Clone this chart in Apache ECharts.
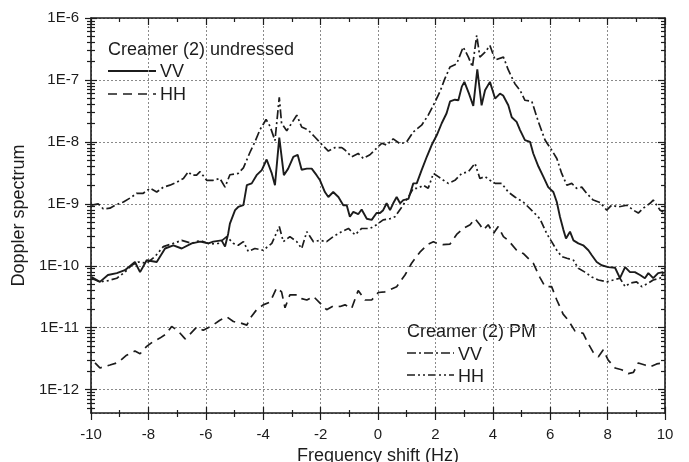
<!DOCTYPE html>
<html>
<head>
<meta charset="utf-8">
<script src="https://cdn.jsdelivr.net/npm/echarts@6/dist/echarts.min.js"></script>
<style>
html,body{margin:0;padding:0;background:#fff;}
#chart{width:689px;height:462px;}
</style>
</head>
<body>
<div id="chart"></div>
<script>
// ---- data: [frequency shift (Hz), Doppler spectrum] ----
const undressedVV = [
[-9.98,6.6e-11],[-9.69,5.5e-11],[-9.41,7.1e-11],[-9.10,7.6e-11],[-8.82,8.5e-11],[-8.47,1.15e-10],[-8.29,7.9e-11],
[-8.06,1.23e-10],[-7.71,1.15e-10],[-7.42,1.9e-10],[-7.13,2.14e-10],[-6.84,1.9e-10],[-6.49,2.3e-10],[-6.20,2.45e-10],
[-5.91,2.3e-10],[-5.74,2.45e-10],[-5.45,2.57e-10],[-5.33,2.04e-10],[-5.22,3.3e-10],[-5.16,4.8e-10],[-4.98,7.9e-10],
[-4.87,8.9e-10],[-4.69,9.5e-10],[-4.57,2.0e-9],[-4.40,2.14e-9],[-4.23,2.9e-9],[-4.05,3.5e-9],[-3.88,5.2e-9],
[-3.70,3.1e-9],[-3.59,2.0e-9],[-3.44,1.17e-8],[-3.28,2.9e-9],[-3.13,3.7e-9],[-2.95,5.75e-9],[-2.80,6.2e-9],
[-2.66,3.55e-9],[-2.48,3.7e-9],[-2.31,3.7e-9],[-2.14,2.9e-9],[-2.02,2.4e-9],[-1.85,1.55e-9],[-1.73,1.29e-9],
[-1.56,1.55e-9],[-1.38,1.29e-9],[-1.21,9.5e-10],[-1.09,9.5e-10],[-0.98,6.2e-10],[-0.86,7.4e-10],[-0.69,6.8e-10],
[-0.57,8.1e-10],[-0.39,5.75e-10],[-0.22,5.5e-10],[-0.05,7.1e-10],[0.07,7.1e-10],[0.18,7.9e-10],[0.30,1.02e-9],
[0.42,7.9e-10],[0.53,1.02e-9],[0.65,1.29e-9],[0.77,1.02e-9],[0.88,1.15e-9],[1.06,1.2e-9],[1.23,2.14e-9],
[1.35,2.14e-9],[1.52,3.5e-9],[1.70,5.75e-9],[1.87,8.9e-9],[2.05,1.29e-8],[2.22,2.0e-8],[2.39,2.9e-8],
[2.51,4.5e-8],[2.68,4.8e-8],[2.80,4.7e-8],[2.92,7.8e-8],[3.01,9.3e-8],[3.17,6.0e-8],[3.32,3.8e-8],[3.46,1.48e-7],
[3.61,3.9e-8],[3.73,6.8e-8],[3.90,9.3e-8],[4.08,5.0e-8],[4.25,6.0e-8],[4.36,5.6e-8],[4.54,3.9e-8],[4.66,2.5e-8],
[4.83,2.1e-8],[4.95,1.55e-8],[5.12,1.07e-8],[5.30,1.0e-8],[5.41,6.5e-9],[5.59,4.0e-9],[5.76,2.75e-9],[5.93,1.86e-9],
[6.11,1.55e-9],[6.23,1.07e-9],[6.34,6.2e-10],[6.46,3.8e-10],[6.55,2.75e-10],[6.69,3.55e-10],[6.81,2.57e-10],
[6.98,2.3e-10],[7.15,2.14e-10],[7.33,1.78e-10],[7.45,1.48e-10],[7.62,1.15e-10],[7.79,1.02e-10],[8.02,9.5e-11],
[8.26,9.3e-11],[8.43,6.3e-11],[8.61,9.5e-11],[8.78,7.9e-11],[8.95,7.9e-11],[9.13,7.1e-11],[9.30,6.3e-11],
[9.42,7.6e-11],[9.59,6.3e-11],[9.76,7.6e-11],[9.94,7.9e-11]
];
const undressedHH = [
[-9.86,2.7e-12],[-9.69,2.24e-12],[-9.34,2.5e-12],[-9.05,2.75e-12],[-8.76,3.6e-12],[-8.47,4.2e-12],[-8.29,3.8e-12],
[-8.06,5.0e-12],[-7.83,6.0e-12],[-7.60,6.8e-12],[-7.39,7.9e-12],[-7.19,1.05e-11],[-6.97,8.9e-12],[-6.72,6.6e-12],
[-6.55,7.9e-12],[-6.32,1.02e-11],[-6.09,9.1e-12],[-5.79,1.07e-11],[-5.51,1.32e-11],[-5.27,1.5e-11],[-5.04,1.26e-11],
[-4.81,1.2e-11],[-4.57,1.1e-11],[-4.46,1.41e-11],[-4.23,1.95e-11],[-4.00,2.34e-11],[-3.76,2.6e-11],[-3.53,4.4e-11],
[-3.36,3.8e-11],[-3.24,2.1e-11],[-3.07,3.4e-11],[-2.83,3.4e-11],[-2.66,2.95e-11],[-2.48,2.8e-11],[-2.25,3.2e-11],
[-2.02,2.5e-11],[-1.79,1.95e-11],[-1.56,2.24e-11],[-1.32,2.2e-11],[-1.15,2.34e-11],[-0.92,2.04e-11],[-0.69,4.0e-11],
[-0.45,2.8e-11],[-0.22,2.8e-11],[0.01,3.7e-11],[0.24,3.8e-11],[0.42,4.1e-11],[0.65,4.6e-11],[0.94,7.1e-11],
[1.17,1.1e-10],[1.46,1.66e-10],[1.75,2.24e-10],[1.93,2.45e-10],[2.06,2.3e-10],[2.26,2.2e-10],[2.51,2.24e-10],
[2.74,3.2e-10],[2.97,4.0e-10],[3.21,4.6e-10],[3.38,5.75e-10],[3.55,4.6e-10],[3.67,3.8e-10],[3.84,4.6e-10],
[4.02,3.3e-10],[4.19,4.3e-10],[4.37,2.95e-10],[4.54,2.57e-10],[4.83,1.78e-10],[5.06,1.58e-10],[5.41,1.1e-10],
[5.64,6.5e-11],[5.82,4.6e-11],[6.05,4.6e-11],[6.23,2.8e-11],[6.45,1.66e-11],[6.63,1.32e-11],[6.86,8.9e-12],
[7.15,8.1e-12],[7.32,5.6e-12],[7.50,4.0e-12],[7.68,3.4e-12],[7.85,4.4e-12],[8.02,3.0e-12],[8.26,2.24e-12],
[8.49,2.1e-12],[8.72,1.82e-12],[8.90,1.9e-12],[9.07,2.7e-12],[9.30,2.5e-12],[9.48,2.34e-12],[9.71,2.6e-12],
[9.94,2.7e-12]
];
const pmVV = [
[-9.98,9.5e-10],[-9.75,1.0e-9],[-9.57,8.3e-10],[-9.34,8.5e-10],[-9.16,9.5e-10],[-8.87,1.07e-9],[-8.58,1.29e-9],
[-8.41,1.48e-9],[-8.18,1.48e-9],[-7.94,1.78e-9],[-7.71,1.55e-9],[-7.48,1.86e-9],[-7.25,2.0e-9],[-7.01,2.24e-9],
[-6.78,2.57e-9],[-6.61,3.3e-9],[-6.49,2.9e-9],[-6.32,2.9e-9],[-6.20,3.3e-9],[-5.97,2.4e-9],[-5.74,2.4e-9],
[-5.51,2.57e-9],[-5.33,1.86e-9],[-5.16,2.95e-9],[-4.87,3.1e-9],[-4.69,3.8e-9],[-4.46,6.8e-9],[-4.29,1.0e-8],
[-4.11,1.58e-8],[-3.90,2.3e-8],[-3.76,1.78e-8],[-3.59,1.05e-8],[-3.44,5.25e-8],[-3.36,2.0e-8],[-3.18,1.51e-8],
[-3.01,2.0e-8],[-2.83,2.7e-8],[-2.66,1.74e-8],[-2.43,1.55e-8],[-2.20,1.2e-8],[-1.96,9.1e-9],[-1.73,7.1e-9],
[-1.50,8.1e-9],[-1.26,8.1e-9],[-1.15,7.4e-9],[-0.92,5.75e-9],[-0.69,6.5e-9],[-0.51,5.4e-9],[-0.28,6.2e-9],
[-0.05,7.9e-9],[0.13,9.5e-9],[0.30,8.9e-9],[0.53,1.12e-8],[0.77,9.3e-9],[1.00,1.0e-8],[1.23,1.45e-8],
[1.52,1.86e-8],[1.75,2.7e-8],[1.93,3.9e-8],[2.16,6.5e-8],[2.33,1.05e-7],[2.51,1.62e-7],[2.74,1.82e-7],
[2.97,3.4e-7],[3.15,2.34e-7],[3.29,1.62e-7],[3.44,5.25e-7],[3.55,2.34e-7],[3.73,2.8e-7],[3.90,3.6e-7],
[4.08,2.1e-7],[4.37,2.34e-7],[4.54,1.45e-7],[4.77,8.7e-8],[4.95,6.8e-8],[5.12,4.7e-8],[5.36,4.5e-8],[5.59,2.1e-8],
[5.82,1.07e-8],[6.05,7.4e-9],[6.23,5.4e-9],[6.40,3.1e-9],[6.58,2.0e-9],[6.75,2.14e-9],[6.92,1.78e-9],[7.10,1.86e-9],
[7.27,1.48e-9],[7.50,1.15e-9],[7.74,1.05e-9],[7.97,7.9e-10],[8.14,9.5e-10],[8.37,8.9e-10],[8.67,9.5e-10],
[8.90,7.9e-10],[9.07,7.1e-10],[9.24,8.5e-10],[9.48,1.02e-9],[9.59,1.15e-9],[9.83,7.9e-10],[9.94,7.4e-10]
];
const pmHH = [
[-9.98,6.3e-11],[-9.69,5.5e-11],[-9.41,5.75e-11],[-9.10,6.3e-11],[-8.82,7.9e-11],[-8.58,1.02e-10],[-8.35,1.15e-10],
[-8.06,1.1e-10],[-7.77,1.41e-10],[-7.48,2.04e-10],[-7.13,2.3e-10],[-6.84,2.57e-10],[-6.49,2.3e-10],[-6.20,2.57e-10],
[-5.85,2.24e-10],[-5.56,2.3e-10],[-5.27,2.95e-10],[-5.04,2.3e-10],[-4.87,2.14e-10],[-4.69,2.45e-10],[-4.52,1.7e-10],
[-4.29,1.9e-10],[-4.00,1.78e-10],[-3.70,2.3e-10],[-3.44,4.3e-10],[-3.30,2.45e-10],[-3.07,2.95e-10],[-2.83,2.45e-10],
[-2.66,1.9e-10],[-2.48,3.55e-10],[-2.25,2.45e-10],[-2.02,2.57e-10],[-1.79,2.45e-10],[-1.56,2.95e-10],[-1.26,3.55e-10],
[-1.03,4.0e-10],[-0.80,3.16e-10],[-0.57,4.0e-10],[-0.28,4.0e-10],[-0.05,4.6e-10],[0.18,5.5e-10],[0.42,5.75e-10],
[0.59,6.2e-10],[0.83,8.9e-10],[1.06,1.29e-9],[1.23,1.78e-9],[1.40,1.78e-9],[1.58,2.0e-9],[1.75,1.78e-9],[1.93,3.1e-9],
[2.10,2.75e-9],[2.28,2.4e-9],[2.45,2.14e-9],[2.68,2.4e-9],[2.92,3.1e-9],[3.15,3.3e-9],[3.38,4.5e-9],[3.55,2.57e-9],
[3.73,2.75e-9],[3.90,2.4e-9],[4.08,2.14e-9],[4.31,2.14e-9],[4.54,1.55e-9],[4.77,1.29e-9],[5.06,1.07e-9],
[5.41,7.4e-10],[5.64,5.75e-10],[5.88,3.3e-10],[6.05,2.45e-10],[6.23,1.78e-10],[6.40,1.41e-10],[6.58,1.32e-10],
[6.81,1.23e-10],[6.98,9.1e-11],[7.21,7.9e-11],[7.45,6.6e-11],[7.68,5.9e-11],[7.97,5.5e-11],[8.20,5.9e-11],
[8.43,6.3e-11],[8.61,4.6e-11],[8.78,5.25e-11],[9.01,5.5e-11],[9.19,4.6e-11],[9.42,5.25e-11],[9.59,5.9e-11],
[9.83,6.3e-11],[9.94,7.6e-11]
];
const yTickLabels = ['1E-12','1E-11','1E-10','1E-9','1E-8','1E-7','1E-6'];
const yTickExponents = [-12,-11,-10,-9,-8,-7,-6];
const legendTitles = ['Creamer (2) undressed','Creamer (2) PM'];
const legendItems = ['VV','HH'];

// ---- layout / style ----
const INK = '#1c1c1c';
const FONT = '"Liberation Sans", Arial, Helvetica, sans-serif';
const YMIN = 4.2e-13, YMAX = 1e-6;
const LMIN = Math.log10(YMIN), LMAX = Math.log10(YMAX);
const minorLog = [];
for (let e = -13; e <= -7; e++) for (let k = 2; k <= 9; k++) {
  const v = e + Math.log10(k);
  if (v >= LMIN && v <= LMAX) minorLog.push(v);
}
const dashHH = [9, 6];
const dashPMVV = [9, 3, 2, 3];
const dashPMHH = [8, 3, 2, 3, 2, 3];

function tickAxis(position, inside, len, values, showLine) {
  return {
    type: 'value', position: position, min: LMIN, max: LMAX,
    axisLine: {show: !!showLine, onZero: false, lineStyle: {color: INK, width: 1.6}},
    axisTick: {show: true, inside: inside, length: len, customValues: values, lineStyle: {color: INK, width: 1.2}},
    axisLabel: {show: false}, splitLine: {show: false}
  };
}

const chart = echarts.init(document.getElementById('chart'), null, {renderer: 'canvas'});
const option = {
  animation: false,
  backgroundColor: '#fff',
  grid: {left: 91, right: 24, top: 18, bottom: 49, containLabel: false, outerBoundsMode: 'none'},
  xAxis: [
    {
      type: 'value', position: 'bottom', min: -10, max: 10, interval: 2,
      name: 'Frequency shift (Hz)', nameLocation: 'middle', nameGap: 24,
      nameTextStyle: {fontFamily: FONT, fontSize: 18, color: INK},
      axisLine: {show: true, onZero: false, lineStyle: {color: INK, width: 1.6}},
      axisTick: {show: true, inside: true, length: 6, lineStyle: {color: INK, width: 1.2}},
      minorTick: {show: true, splitNumber: 2, length: 3, lineStyle: {color: INK, width: 1.2}},
      axisLabel: {fontFamily: FONT, fontSize: 15, color: INK, margin: 14},
      splitLine: {show: true, lineStyle: {color: '#8a8a8a', width: 1, type: [2, 2]}}
    },
    {
      type: 'value', position: 'bottom', min: -10, max: 10, interval: 2,
      axisLine: {show: false, onZero: false},
      axisTick: {show: true, inside: false, length: 7, lineStyle: {color: INK, width: 1.2}},
      minorTick: {show: true, splitNumber: 2, length: 4, lineStyle: {color: INK, width: 1.2}},
      axisLabel: {show: false}, splitLine: {show: false}
    },
    {
      type: 'value', position: 'top', min: -10, max: 10, interval: 2,
      axisLine: {show: true, onZero: false, lineStyle: {color: INK, width: 1.6}},
      axisTick: {show: true, inside: true, length: 7, lineStyle: {color: INK, width: 1.2}},
      minorTick: {show: true, splitNumber: 2, length: 4, lineStyle: {color: INK, width: 1.2}},
      axisLabel: {show: false}, splitLine: {show: false}
    }
  ],
  yAxis: [
    {
      type: 'log', logBase: 10, position: 'left', min: YMIN, max: YMAX,
      name: 'Doppler spectrum', nameLocation: 'middle', nameGap: 49, nameRotate: 90,
      nameTextStyle: {fontFamily: FONT, fontSize: 18, color: INK},
      axisLine: {show: true, onZero: false, lineStyle: {color: INK, width: 1.6}},
      axisTick: {show: false},
      axisLabel: {
        fontFamily: FONT, fontSize: 15, color: INK, margin: 12,
        formatter: function (v) {
          const l = Math.log10(v), e = Math.round(l);
          const i = yTickExponents.indexOf(e);
          return (Math.abs(l - e) < 1e-6 && i >= 0) ? yTickLabels[i] : '';
        }
      },
      splitLine: {show: true, lineStyle: {color: '#8a8a8a', width: 1, type: [2, 2]}}
    },
    tickAxis('left', true, 6, yTickExponents, false),
    tickAxis('left', false, 6, yTickExponents, false),
    tickAxis('left', true, 4, minorLog, false),
    tickAxis('left', false, 4, minorLog, false),
    tickAxis('right', true, 7, yTickExponents, true),
    tickAxis('right', true, 4, minorLog, false)
  ],
  series: [
    {name: 'undressed VV', type: 'line', data: undressedVV, showSymbol: false, symbol: 'none',
     lineStyle: {color: INK, width: 1.9, type: 'solid'}, z: 5},
    {name: 'undressed HH', type: 'line', data: undressedHH, showSymbol: false, symbol: 'none',
     lineStyle: {color: INK, width: 1.7, type: dashHH}, z: 4},
    {name: 'PM VV', type: 'line', data: pmVV, showSymbol: false, symbol: 'none',
     lineStyle: {color: INK, width: 1.7, type: dashPMVV}, z: 4},
    {name: 'PM HH', type: 'line', data: pmHH, showSymbol: false, symbol: 'none',
     lineStyle: {color: INK, width: 1.7, type: dashPMHH}, z: 4}
  ],
  graphic: [
    {type: 'text', left: 108, top: 41, style: {text: legendTitles[0], font: '18px ' + FONT, fill: INK}},
    {type: 'line', shape: {x1: 108, y1: 71, x2: 156, y2: 71}, style: {stroke: INK, lineWidth: 1.9}},
    {type: 'text', left: 160, top: 63, style: {text: legendItems[0], font: '18px ' + FONT, fill: INK}},
    {type: 'line', shape: {x1: 108, y1: 94, x2: 156, y2: 94}, style: {stroke: INK, lineWidth: 1.7, lineDash: dashHH}},
    {type: 'text', left: 160, top: 86, style: {text: legendItems[1], font: '18px ' + FONT, fill: INK}},

    {type: 'text', left: 407, top: 323, style: {text: legendTitles[1], font: '18px ' + FONT, fill: INK}},
    {type: 'line', shape: {x1: 407, y1: 353, x2: 454, y2: 353}, style: {stroke: INK, lineWidth: 1.7, lineDash: dashPMVV}},
    {type: 'text', left: 458, top: 346, style: {text: legendItems[0], font: '18px ' + FONT, fill: INK}},
    {type: 'line', shape: {x1: 407, y1: 375, x2: 454, y2: 375}, style: {stroke: INK, lineWidth: 1.7, lineDash: dashPMHH}},
    {type: 'text', left: 458, top: 368, style: {text: legendItems[1], font: '18px ' + FONT, fill: INK}}
  ]
};
chart.setOption(option);
</script>
</body>
</html>
